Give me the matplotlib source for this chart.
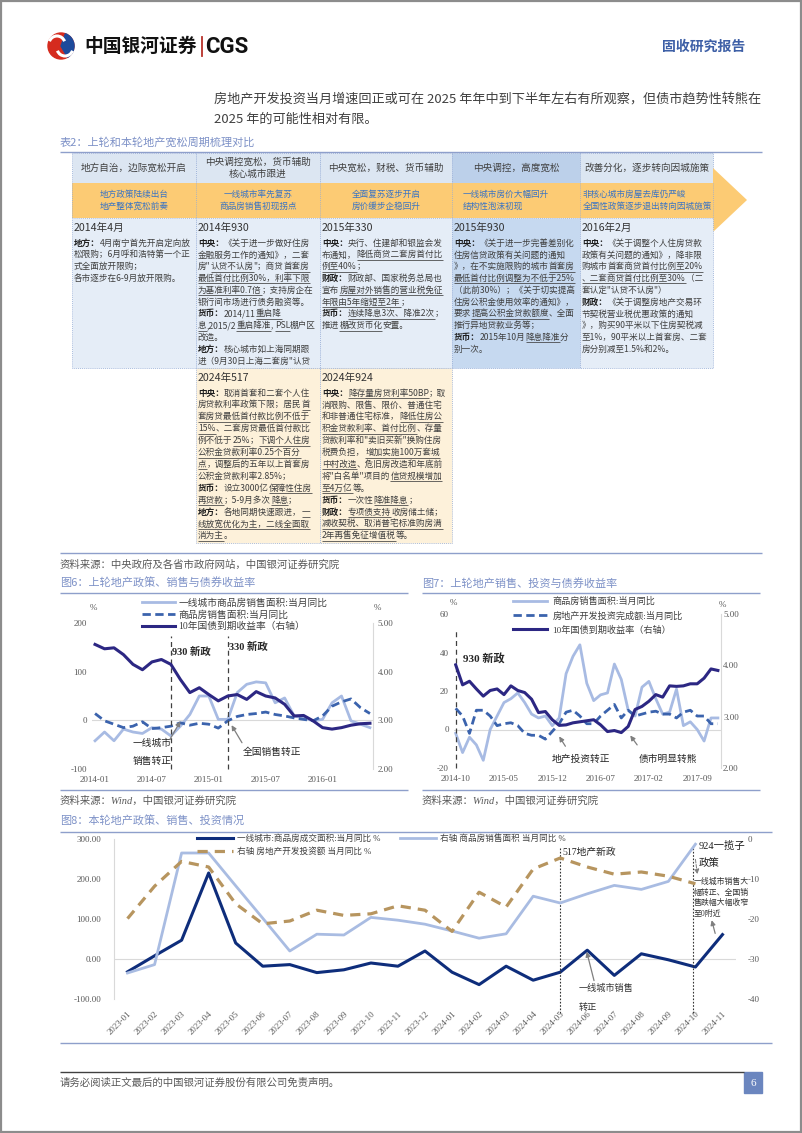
import re

import numpy as np
import matplotlib
matplotlib.use("Agg")
import matplotlib.pyplot as plt
from matplotlib.patches import Rectangle, Polygon, Circle, Wedge, Arc

W, H = 802, 1133
CJK = ["Noto Sans CJK SC", "DejaVu Sans"]
SERIF = ["Liberation Serif", "Noto Sans CJK SC"]
plt.rcParams["font.family"] = SERIF
plt.rcParams["axes.unicode_minus"] = False

# ---------------- data: fig 6 (monthly 2014-01 .. 2016-06) ----------------
F6_TICK_POS = [0, 6, 12, 18, 24]
F6_TICK_LAB = ["2014-01", "2014-07", "2015-01", "2015-07", "2016-01"]
F6_TIER1 = [-42, -24, -42, -18, -24, -27, -15, -18, -32, -12, 12, 50, 50, 2, 2,
            57, 74, 79, 77, 36, 46, 9, 5, -1, 2, 36, 50, -1, -8, -15]
F6_NATION = [14, -1, -8, -15, -12, -3, -17, -15, -12, -5, -10, -6, -8, -16, -1,
             8, 12, 14, 17, 12, 9, 5, 2, -1, 9, 29, 38, 44, 26, 14]
F6_YIELD = [4.56, 4.47, 4.49, 4.35, 4.15, 4.04, 4.20, 4.25, 4.15, 3.84, 3.57, 3.67,
            3.53, 3.40, 3.50, 3.53, 3.43, 3.59, 3.50, 3.46, 3.33, 3.09, 3.10, 2.99,
            2.85, 2.82, 2.85, 2.90, 2.93, 2.94]
F6_EVENTS = [8, 14]
F6_LABELS = ["一线城市商品房销售面积:当月同比", "商品房销售面积:当月同比", "10年国债到期收益率（右轴）"]

# ---------------- data: fig 7 (monthly 2014-10 .. 2017-12) ----------------
F7_TICK_POS = [0, 7, 14, 21, 28, 35]
F7_TICK_LAB = ["2014-10", "2015-05", "2015-12", "2016-07", "2017-02", "2017-09"]
F7_SALES = [-2, -12, -4, -8, -16, 0, 7, 14, 16, 19, 14, 8, 6, 7, 2, 6, 29, 38, 44,
            24, 15, 18, 19, 34, 26, 10, 7, 22, 25, 16, 8, 9, 21, 2, 4, 0, -6, 6, 6]
F7_INVEST = [11, 7, -2, 10, 10, 7, 2, 3, 3.5, 2, -2, -3, -3, -5, -1, 3, 9, 10, 7, 3,
             3, 7, 10, 13, 6, 10, 7, 8, 9, 9.5, 8, 8, 6, 9, 10, 7, 7, 3, 3]
F7_YIELD = [4.01, 3.62, 3.69, 3.54, 3.40, 3.51, 3.54, 3.43, 3.60, 3.51, 3.47, 3.34,
            3.08, 3.10, 2.94, 2.83, 2.84, 2.88, 2.90, 2.92, 2.94, 2.84, 2.71, 2.73,
            2.69, 2.81, 3.14, 3.20, 3.30, 3.43, 3.38, 3.60, 3.59, 3.60, 3.64, 3.64,
            3.75, 3.93, 3.90]
F7_EVENTS = [0]
F7_LABELS = ["商品房销售面积:当月同比", "房地产开发投资完成额:当月同比", "10年国债到期收益率（右轴）"]

# ---------------- data: fig 8 (monthly 2023-01 .. 2024-11) ----------------
F8_MONTHS = ["2023-01", "2023-02", "2023-03", "2023-04", "2023-05", "2023-06",
             "2023-07", "2023-08", "2023-09", "2023-10", "2023-11", "2023-12",
             "2024-01", "2024-02", "2024-03", "2024-04", "2024-05", "2024-06",
             "2024-07", "2024-08", "2024-09", "2024-10", "2024-11"]
F8_TIER1 = [-32, 8, 47, 215, 40, -18, -14, -34, -27, -10, -18, 20, -33, -64, -18,
            -53, -33, 22, -41, 13, -2, -20, 61]
F8_SALES = [-33.5, -31.4, -3.5, -3.5, -11.7, -19.8, -28, -23.8, -24, -19.6, -20.3,
            -21.3, -23, -24.8, -23.7, -14.3, -16, -13.7, -11.6, -12.6, -10.6, -1.3, np.nan]
F8_INVEST = [-19.9, -11.8, -5.6, -7, -16.2, -21.2, -20.5, -17.8, -19.1, -18.7, -16.7,
             -17.8, -23.1, -13.3, -17, -7.5, -4.75, -7, -8.8, -8.25, -9.3, -11.2, np.nan]
F8_EVENTS = [16, 20.9]
F8_LABELS = ["一线城市:商品房成交面积:当月同比 %", "右轴 房地产开发投资额 当月同比 %",
             "右轴 商品房销售面积 当月同比 %"]

# ---------------- table text ----------------
COL_X = [72, 196, 320, 452, 580, 713]
HEADERS = ["地方自治，边际宽松开启", "中央调控宽松，货币辅助\n核心城市跟进", "中央宽松，财税、货币辅助",
           "中央调控，高度宽松", "改善分化，逐步转向因城施策"]
BAND = ["地方政策陆续出台\n地产整体宽松前奏", "一线城市率先复苏\n商品房销售初现拐点",
        "全面复苏逐步开启\n房价缓步企稳回升", "一线城市房价大幅回升\n结构性泡沫初现",
        "非核心城市房屋去库仍严峻\n全国性政策逐步退出转向因城施策"]
R1_TITLES = ["2014年4月", "2014年930", "2015年330", "2015年930", "2016年2月"]
R1_BODY = [
    ["**地方：**4月南宁首先开启定向放", "松限购；6月呼和浩特第一个正", "式全面放开限购；",
     "各市逐步在6-9月放开限购。"],
    ["**中央：**《关于进一步做好住房", "金融服务工作的通知》，二套",
     "房\"__认贷不认房__\"；商贷__首套房__", "__最低首付比例30%，利率下限__",
     "__为基准利率0.7倍__；支持房企在", "银行间市场进行债务融资等。",
     "**货币：**2014/11__重启降__", "__息__,2015/2__重启降准__, __PSL__棚户区", "改造。",
     "**地方：**核心城市如上海同期跟", "进（9月30日上海二套房\"认贷"],
    ["**中央：**央行、住建部和银监会发", "布通知，__降低商贷二套房首付比__", "__例至40%__；",
     "**财政：**财政部、国家税务总局也", "宣布__房屋对外销售的营业税免征__",
     "__年限由5年缩短至2年__；", "**货币：**__连续降息3次、降准2次__；", "推进__棚改货币化__安置。"],
    ["**中央：**《关于进一步完善差别化", "住房信贷政策有关问题的通知",
     "》，在不实施限购的城市__首套房__", "__最低首付比例调整为不低于25%__",
     "（此前30%）；《关于切实提高", "住房公积金使用效率的通知》，",
     "要求__提高公积金贷款额度__、全面", "推行异地贷款业务等；",
     "**货币：**2015年10月__降息降准__分", "别一次。"],
    ["**中央：**《关于调整个人住房贷款", "政策有关问题的通知》，降非限",
     "购城市__首套商贷首付比例至20%__", "__、二套商贷首付比例至30%__（二",
     "套认定\"认贷不认房\"）", "**财政：**《关于调整房地产交易环", "节契税营业税优惠政策的通知",
     "》，购买90平米以下住房契税减", "至1%，90平米以上首套房、二套", "房分别减至1.5%和2%。"],
]
R2_TITLES = ["2024年517", "2024年924"]
R2_BODY = [
    ["**中央：**取消首套和二套个人住", "房贷款利率政策下限；居民__首__",
     "__套房贷最低首付款比例不低于__", "__15%__、二套房贷最低首付款比",
     "例不低于__25%__；__下调个人住房__", "__公积金贷款利率0.25个百分__",
     "__点__，调整后的五年以上首套房", "公积金贷款利率2.85%；",
     "**货币：**设立3000亿__保障性住房__", "__再贷款__；5-9月多次__降息__；",
     "**地方：**各地同期快速跟进，__一__", "__线放宽优化为主，二线全面取__", "__消为主__。"],
    ["**中央：**__降存量房贷利率50BP__；取", "消限购、限售、限价、普通住宅",
     "和非普通住宅标准，__降低住房公__", "__积金贷款利率、首付比例__、存量",
     "贷款利率和\"卖旧买新\"换购住房", "税费负担，__增加实施100万套城__",
     "__中村改造__、危旧房改造和年底前", "将\"白名单\"项目的__信贷规模增加__", "__至4万亿__等。",
     "**货币：**一次性__降准降息__；", "**财政：**__专项债支持__收房储土储；",
     "__减收契税、取消普宅标准购房满__", "__2年再售免征增值税__等。"],
]

LIGHT, MID, DARK = "#a8bbe3", "#3b63ad", "#2c2783"
F8_DARK, F8_LIGHT, F8_TAN = "#0e2d7b", "#a9bce2", "#b7955f"
GRID, TICK = "#d9d9d9", "#595959"
TITLE_BLUE, RULE = "#7d91c7", "#8e9fcb"
TXT = "#3f3f3f"

fig = plt.figure(figsize=(W / 100, H / 100), dpi=100)
page = fig.add_axes([0, 0, 1, 1])
page.set_xlim(0, W)
page.set_ylim(H, 0)
page.axis("off")
R = fig.canvas.get_renderer()


def ptext(x, y, s, size, color=TXT, **kw):
    kw.setdefault("va", "center")
    kw.setdefault("family", CJK)
    return page.text(x, y, s, fontsize=size, color=color, **kw)


def rule(x0, x1, y, color=RULE, lw=1.0):
    page.plot([x0, x1], [y, y], color=color, lw=lw, solid_capstyle="butt")


TOKEN = re.compile(r"(\*\*.+?\*\*|__.+?__)")


def rich(x, y, line, size=6.2):
    cx = x
    for part in TOKEN.split(line):
        if not part:
            continue
        bold = part.startswith("**")
        under = part.startswith("__")
        s = part[2:-2] if (bold or under) else part
        t = ptext(cx, y, s, size, color="#1f1f1f" if bold else TXT,
                  fontweight="bold" if bold else "normal")
        w = t.get_window_extent(renderer=R).width
        if under:
            rule(cx, cx + w, y + 5.0, color=TXT, lw=0.55)
        cx += w


# ---------------- page frame / header ----------------
page.add_patch(Rectangle((1, 1), W - 2, H - 2, fill=False, edgecolor="#8c8c8c", lw=1.6))
page.add_patch(Circle((61, 46), 13, color="#d52b1e"))
page.add_patch(Wedge((61, 46), 13, -70, 60, color="#1d4a9b"))
page.add_patch(Arc((57, 44), 16, 16, theta1=200, theta2=340, color="white", lw=2.2))
page.add_patch(Arc((65, 48), 16, 16, theta1=20, theta2=160, color="white", lw=2.2))
ptext(84, 46, "中国银河证券", 13.5, color="#111111", fontweight="bold")
page.plot([201.5, 201.5], [37, 56], color="#b8322a", lw=1.3)
ptext(205, 47, "CGS", 16, color="#111111", fontweight="bold", family=["Roboto", "DejaVu Sans"])
ptext(662, 47, "固收研究报告", 10, color="#3d5fa6", fontweight="bold")

P1 = "房地产开发投资当月增速回正或可在 2025 年年中到下半年左右有所观察，但债市趋势性转熊在"
P2 = "2025 年的可能性相对有限。"
t1 = ptext(214, 99, P1, 9, color="#404040")
fs = 9 * 548 / t1.get_window_extent(renderer=R).width
t1.set_fontsize(fs)
ptext(214, 119, P2, fs, color="#404040")

# ---------------- table ----------------
ptext(60, 142, "表2：上轮和本轮地产宽松周期梳理对比", 8, color=TITLE_BLUE)
rule(60, 762, 152)
BORDER = "#93abd6"
HDR_FC = ["#dce6f2", "#dce6f2", "#dce6f2", "#bcd0ea", "#dce6f2"]
ROW1_FC = ["#e5edf7", "#e5edf7", "#e5edf7", "#c6d9f0", "#e5edf7"]


def cell(j, y0, y1, fc):
    page.add_patch(Rectangle((COL_X[j], y0), COL_X[j + 1] - COL_X[j], y1 - y0, facecolor=fc,
                             edgecolor=BORDER, lw=0.6, ls=(0, (1, 1.5))))


for j in range(5):
    cell(j, 153, 183, HDR_FC[j])
    ptext((COL_X[j] + COL_X[j + 1]) / 2, 168, HEADERS[j], 6.9, ha="center",
          linespacing=1.35, color="#404040")

page.add_patch(Polygon([(72, 183), (713, 183), (713, 168), (747, 200), (713, 232), (713, 218),
                        (72, 218)], closed=True, facecolor="#fccb74", edgecolor="none"))
for j in range(6):
    page.plot([COL_X[j], COL_X[j]], [183, 218], color=BORDER, lw=0.6, ls=(0, (1, 1.5)))
for j in range(5):
    if j < 3:
        ptext((COL_X[j] + COL_X[j + 1]) / 2, 200, BAND[j], 6.2, color="#3a74c4", ha="center",
              linespacing=1.45)
    else:
        ptext(COL_X[j] + (11 if j == 3 else 3), 200, BAND[j], 6.2, color="#3a74c4", ha="left",
              linespacing=1.45)

for j in range(5):
    cell(j, 218, 368, ROW1_FC[j])
    ptext(COL_X[j] + 2, 228, R1_TITLES[j], 7.6, color="#333333")
    for k, line in enumerate(R1_BODY[j]):
        rich(COL_X[j] + 2, 243 + k * 11.8, line)
for n, j in enumerate([1, 2]):
    cell(j, 368, 543, "#fdf1da")
    ptext(COL_X[j] + 2, 378, R2_TITLES[n], 7.6, color="#333333")
    for k, line in enumerate(R2_BODY[n]):
        rich(COL_X[j] + 2, 393 + k * 11.9, line)

rule(60, 762, 553)
ptext(60, 565, "资料来源：中央政府及各省市政府网站，中国银河证券研究院", 7.5, color=TICK, style="italic")

# ---------------- figure titles / sources ----------------
ptext(60, 583, "图6：上轮地产政策、销售与债券收益率", 8, color=TITLE_BLUE)
ptext(422, 583, "图7：上轮地产销售、投资与债券收益率", 8, color=TITLE_BLUE)
rule(60, 408, 593)
rule(422, 760, 593)
rule(60, 408, 790)
rule(422, 760, 790)
ptext(60, 801, "资料来源：Wind，中国银河证券研究院", 7.5, color=TICK, style="italic", family=SERIF)
ptext(422, 801, "资料来源：Wind，中国银河证券研究院", 7.5, color=TICK, style="italic", family=SERIF)
ptext(60, 821, "图8：本轮地产政策、销售、投资情况", 8, color=TITLE_BLUE)
rule(60, 772, 832)
rule(60, 772, 1043)
ptext(93, 608, "%", 6.5, color=TICK, family=SERIF, ha="center")
ptext(377, 608, "%", 6.5, color=TICK, family=SERIF, ha="center")
ptext(453, 603, "%", 6.5, color=TICK, family=SERIF, ha="center")
ptext(722, 605, "%", 6.5, color=TICK, family=SERIF, ha="center")

# footer
rule(60, 744, 1072, color="#404040", lw=1.0)
ptext(60, 1083, "请务必阅读正文最后的中国银河证券股份有限公司免责声明。", 7.5, color=TICK)
page.add_patch(Rectangle((744, 1072), 18, 21, color="#6b86bf"))
ptext(753, 1083, "6", 8, color="white", ha="center", family=SERIF)


# ---------------- charts ----------------
def px_axes(x0, y0, x1, y1):
    ax = fig.add_axes([x0 / W, 1 - y1 / H, (x1 - x0) / W, (y1 - y0) / H])
    ax.set_facecolor("none")
    return ax


def clean(ax, keep=()):
    for name, sp in ax.spines.items():
        sp.set_visible(name in keep)
        sp.set_color(GRID)
    ax.tick_params(length=0, colors=TICK, labelsize=6.5)


def px_legend(ax, handles, labels, x, y, size, **kw):
    return ax.legend(handles, labels, loc="upper left", bbox_to_anchor=(x / W, 1 - y / H),
                     bbox_transform=fig.transFigure, frameon=False, borderpad=0,
                     borderaxespad=0, fontsize=size, labelcolor="#404040", **kw)


ARROW = dict(arrowstyle="-|>", color="#7f7f7f", lw=0.9, shrinkA=0, shrinkB=0, mutation_scale=7)

# fig 6
ax6 = px_axes(92.2, 623, 372.8, 769)
x6 = np.arange(len(F6_YIELD))
h1, = ax6.plot(x6, F6_TIER1, color=LIGHT, lw=2.0)
h2, = ax6.plot(x6, F6_NATION, color=MID, lw=2.0, ls=(0, (3, 1.6)))
ax6.axhline(0, color=GRID, lw=0.8, zorder=0.5)
ax6.set_xlim(-0.3, 29.3)
ax6.set_ylim(-100, 200)
ax6.set_yticks([-100, 0, 100, 200])
ax6.set_yticklabels(["-100", "0", "100", "200"])
ax6.set_xticks(F6_TICK_POS)
ax6.set_xticklabels(F6_TICK_LAB)
clean(ax6)
ax6.tick_params(axis="y", pad=3.7)
ax6.tick_params(axis="x", pad=4.7)
ax6r = ax6.twinx()
h3, = ax6r.plot(x6, F6_YIELD, color=DARK, lw=2.2)
ax6r.set_ylim(2, 5)
ax6r.set_yticks([2, 3, 4, 5])
ax6r.set_yticklabels(["2.00", "3.00", "4.00", "5.00"])
clean(ax6r, keep=("right",))
ax6r.tick_params(axis="y", pad=3.7)
for ev in F6_EVENTS:
    ax6.plot([ev, ev], [-100, 173], color="#404040", lw=0.9, ls=(0, (4, 3)), clip_on=False)
ax6.text(8.1, 140, "930 新政", fontsize=7.5, fontweight="bold", color="#262626", va="center")
ax6.text(14.1, 150, "330 新政", fontsize=7.5, fontweight="bold", color="#262626", va="center")
ax6.text(6.05, -47, "一线城市", fontsize=7, color="#262626", ha="center", va="center")
ax6.text(6.05, -84, "销售转正", fontsize=7, color="#262626", ha="center", va="center")
ax6.annotate("", xy=(9.0, -2), xytext=(7.9, -39), arrowprops=ARROW, annotation_clip=False)
ax6.text(15.6, -65, "全国销售转正", fontsize=7, color="#262626", va="center")
ax6.annotate("", xy=(14.4, -10), xytext=(15.5, -46), arrowprops=ARROW, annotation_clip=False)
px_legend(ax6r, [h1, h2, h3], F6_LABELS, 142, 598, 7, handlelength=3.4, handletextpad=0.35,
          labelspacing=0.25)

# fig 7
ax7 = px_axes(454.3, 614, 721, 768)
x7 = np.arange(len(F7_YIELD))
g1, = ax7.plot(x7, F7_SALES, color=LIGHT, lw=2.0)
g2, = ax7.plot(x7, F7_INVEST, color=MID, lw=2.0, ls=(0, (3, 1.6)))
ax7.axhline(0, color=GRID, lw=0.8, zorder=0.5)
ax7.set_xlim(-0.2, 38.45)
ax7.set_ylim(-20, 60)
ax7.set_yticks([-20, 0, 20, 40, 60])
ax7.set_yticklabels(["-20", "0", "20", "40", "60"])
ax7.set_xticks(F7_TICK_POS)
ax7.set_xticklabels(F7_TICK_LAB)
clean(ax7)
ax7.tick_params(axis="y", pad=3.8)
ax7.tick_params(axis="x", pad=4.7)
ax7r = ax7.twinx()
g3, = ax7r.plot(x7, F7_YIELD, color=DARK, lw=2.2)
ax7r.set_ylim(2, 5)
ax7r.set_yticks([2, 3, 4, 5])
ax7r.set_yticklabels(["2.00", "3.00", "4.00", "5.00"])
clean(ax7r, keep=("right",))
ax7r.tick_params(axis="y", pad=1.5)
for ev in F7_EVENTS:
    ax7.plot([ev, ev], [-20, 52.5], color="#404040", lw=0.9, ls=(0, (4, 3)), clip_on=False)
ax7.text(1.1, 37, "930 新政", fontsize=8, fontweight="bold", color="#262626", va="center")
ax7.text(13.9, -15.6, "地产投资转正", fontsize=7, color="#262626", va="center")
ax7.annotate("", xy=(15.0, -3.6), xytext=(15.9, -8.7), arrowprops=ARROW, annotation_clip=False)
ax7.text(26.5, -15.6, "债市明显转熊", fontsize=7, color="#262626", va="center")
ax7.annotate("", xy=(25.3, -3.1), xytext=(26.3, -8), arrowprops=ARROW, annotation_clip=False)
px_legend(ax7r, [g1, g2, g3], F7_LABELS, 513, 597, 6.6, handlelength=3.7, handletextpad=0.6,
          labelspacing=0.55)

# fig 8
ax8 = px_axes(114, 839, 736, 999)
x8 = np.arange(len(F8_MONTHS))
k1, = ax8.plot(x8, F8_TIER1, color=F8_DARK, lw=2.2)
ax8.axhline(0, color=GRID, lw=0.8, zorder=0.5)
ax8.set_xlim(-0.5, 22.5)
ax8.set_ylim(-100, 300)
ax8.set_yticks([-100, 0, 100, 200, 300])
ax8.set_yticklabels(["-100.00", "0.00", "100.00", "200.00", "300.00"])
ax8.set_xticks(x8)
ax8.set_xticklabels(F8_MONTHS, rotation=45, ha="right", va="top", rotation_mode="anchor")
clean(ax8, keep=("left",))
ax8.tick_params(axis="y", pad=9.4)
ax8.tick_params(axis="x", pad=8, labelsize=6.4)
ax8r = ax8.twinx()
k2, = ax8r.plot(x8, F8_SALES, color=F8_LIGHT, lw=2.0)
k3, = ax8r.plot(x8, F8_INVEST, color=F8_TAN, lw=2.3, ls=(0, (3.2, 2.2)))
ax8r.set_ylim(-40, 0)
ax8r.set_yticks([-40, -30, -20, -10, 0])
ax8r.set_yticklabels(["-40", "-30", "-20", "-10", "0"])
clean(ax8r)
ax8r.tick_params(axis="y", pad=8.5)
for ev in F8_EVENTS:
    ax8.plot([ev, ev], [-135, 277], color="#333333", lw=0.8, ls=(0, (1.5, 1.5)), clip_on=False)
ax8.text(16.1, 267, "517地产新政", fontsize=7, color="#262626", va="center")
ax8.text(21.1, 283, "924一揽子", fontsize=7.5, color="#1f1f1f", va="center", clip_on=False)
ax8.text(21.13, 239, "政策", fontsize=7.5, color="#1f1f1f", va="center", clip_on=False)
ax8.annotate("", xy=(21.07, 212), xytext=(21.0, 249), annotation_clip=False,
             arrowprops=dict(ARROW, ls="--", lw=0.7))
F8_NOTE = ["一线城市销售大", "幅转正、全国销", "售跌幅大幅收窄", "至0附近"]
for k, s in enumerate(F8_NOTE):
    ax8.text(20.93, 193 - k * 27, s, fontsize=5.7, color="#333333", va="center", clip_on=False)
ax8.annotate("", xy=(21.6, 97), xytext=(21.73, 64), arrowprops=ARROW, annotation_clip=False)
ax8.text(16.67, -73, "一线城市销售", fontsize=6.6, color="#333333", va="center")
ax8.text(16.67, -121, "转正", fontsize=6.6, color="#333333", va="center", clip_on=False)
ax8.annotate("", xy=(16.98, 18), xytext=(17.25, -54), arrowprops=ARROW, annotation_clip=False)
px_legend(ax8r, [k1, k3, k2], F8_LABELS, 197, 834, 6.2, ncol=2, handlelength=4.2,
          handletextpad=0.45, labelspacing=0.5, columnspacing=2.3)

fig.savefig("out.png", dpi=100)
